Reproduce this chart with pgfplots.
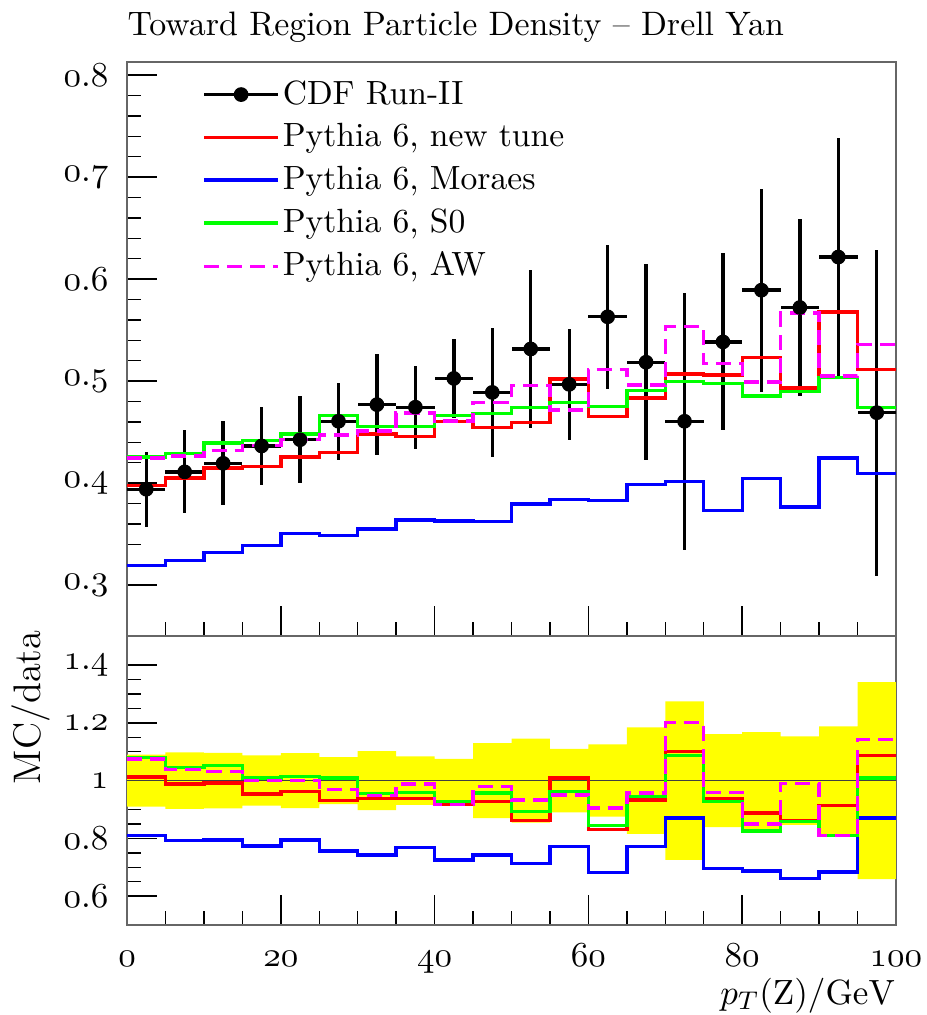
\documentclass[border=0pt]{standalone}
\usepackage{pgfplots}
\pgfplotsset{compat=1.18}
\usepackage{pgfplotstable}
\usepgfplotslibrary{fillbetween}

\definecolor{mcred}{RGB}{255,0,0}
\definecolor{mcblue}{RGB}{0,0,255}
\definecolor{mcgreen}{RGB}{0,255,0}
\definecolor{mcmag}{RGB}{255,0,255}
\definecolor{band}{RGB}{255,255,0}

% data points: bin centre, half width, value, error
\pgfplotstableread{
x    ex  y      ey
2.5  2.5 0.3940 0.0368
7.5  2.5 0.4110 0.0407
12.5 2.5 0.4194 0.0413
17.5 2.5 0.4364 0.0386
22.5 2.5 0.4425 0.0425
27.5 2.5 0.4606 0.0380
32.5 2.5 0.4769 0.0497
37.5 2.5 0.4744 0.0407
42.5 2.5 0.5026 0.0386
47.5 2.5 0.4889 0.0635
52.5 2.5 0.5315 0.0772
57.5 2.5 0.4968 0.0543
62.5 2.5 0.5630 0.0705
67.5 2.5 0.5185 0.0958
72.5 2.5 0.4606 0.1257
77.5 2.5 0.5384 0.0868
82.5 2.5 0.5891 0.0995
87.5 2.5 0.5721 0.0872
92.5 2.5 0.6216 0.1167
97.5 2.5 0.4690 0.1597
}\cdfdata

% MC histograms, bin low edges (last row repeats the last bin)
\pgfplotstableread{
x   red    blue   green  aw
0   0.3977 0.3195 0.4255 0.4245
5   0.4049 0.3242 0.4292 0.4266
10  0.4147 0.3322 0.4393 0.4320
15  0.4165 0.3387 0.4418 0.4371
20  0.4255 0.3503 0.4483 0.4425
25  0.4302 0.3488 0.4661 0.4472
30  0.4480 0.3550 0.4552 0.4509
35  0.4454 0.3640 0.4552 0.4687
40  0.4606 0.3630 0.4661 0.4610
45  0.4545 0.3622 0.4682 0.4790
50  0.4592 0.3796 0.4744 0.4954
55  0.5022 0.3839 0.4787 0.4718
60  0.4653 0.3832 0.4751 0.5113
65  0.4834 0.3984 0.4907 0.4961
70  0.5069 0.4013 0.4997 0.5533
75  0.5059 0.3731 0.4979 0.5171
80  0.5232 0.4046 0.4852 0.4990
85  0.4932 0.3767 0.4900 0.5666
90  0.5677 0.4245 0.5033 0.5051
95  0.5113 0.4093 0.4744 0.5359
100 0.5113 0.4093 0.4744 0.5359
}\mchist

% ratios MC/data and the data error band
\pgfplotstableread{
x   red   blue   green aw    up     lo
0   1.012 0.811  1.081 1.075 1.090  0.910
5   0.988 0.792  1.046 1.038 1.098  0.902
10  0.992 0.795  1.052 1.031 1.096  0.904
15  0.954 0.774  1.009 1.000 1.087  0.913
20  0.962 0.794  1.014 1.000 1.095  0.905
25  0.931 0.757  1.009 0.969 1.081  0.919
30  0.939 0.743  0.956 0.948 1.102  0.898
35  0.939 0.769  0.959 0.988 1.084  0.916
40  0.917 0.725  0.928 0.917 1.075  0.925
45  0.928 0.742  0.957 0.980 1.130  0.870
50  0.863 0.714  0.892 0.933 1.145  0.855
55  1.009 0.772  0.962 0.950 1.110  0.890
60  0.830 0.682  0.844 0.905 1.125  0.875
65  0.933 0.771  0.946 0.957 1.184  0.816
70  1.101 0.870  1.087 1.200 1.274  0.726
75  0.939 0.696  0.927 0.959 1.161  0.839
80  0.888 0.6875 0.826 0.850 1.168  0.832
85  0.863 0.662  0.858 0.991 1.153  0.847
90  0.913 0.684  0.809 0.811 1.1875 0.8125
95  1.087 0.870  1.009 1.142 1.341  0.659
100 1.087 0.870  1.009 1.142 1.341  0.659
}\ratiotab

\pgfplotsset{
  rivet/.style={
    scale only axis, width=240.3pt, xmin=0, xmax=100,
    axis line style={draw=black!60, line width=0.6pt},
    tick align=inside, xtick pos=bottom, ytick pos=left,
    major tick length=9.5pt, minor tick length=4.5pt,
    every tick/.style={black, line width=0.45pt},
    xtick={0,20,40,60,80,100}, minor x tick num=3,
    ticklabel style={font=\fontsize{10.6}{12.7}\selectfont, inner sep=0pt},
    yticklabel={$\mathnormal{\pgfmathprintnumber{\tick}}$},
    xticklabel={$\mathnormal{\pgfmathprintnumber{\tick}}$},
    yticklabel style={anchor=east, xshift=-5.6pt},
    xticklabel style={anchor=base, yshift=-12.8pt},
    legend image code/.code={\draw[#1] (0pt,0pt) -- (23pt,0pt);},
  },
  mc/.style={const plot, line width=1.05pt, mark=none},
  aw/.style={mc, mcmag, dash pattern=on 4.7pt off 2.5pt},
}

\begin{document}
\begin{tikzpicture}

% ratio panel
\begin{axis}[rivet, at={(0pt,0pt)}, anchor=south west, height=90.3pt,
  ymin=0.5, ymax=1.5, ytick={0.6,0.8,1,1.2,1.4}, minor y tick num=3,
  ylabel={MC/data}, xlabel={$p_T(\mathrm{Z})/\mathrm{GeV}$},
  ylabel style={at={(axis description cs:-0.125,1.021)}, anchor=east,
    inner sep=0pt, font=\fontsize{12}{14}\selectfont},
  xlabel style={at={(axis description cs:1,0)}, anchor=base east,
    yshift=-24.7pt, inner sep=0pt, font=\fontsize{10.8}{13}\selectfont}]
  \addplot[draw=none, const plot, name path=up] table[x=x, y=up] {\ratiotab};
  \addplot[draw=none, const plot, name path=lo] table[x=x, y=lo] {\ratiotab};
  \addplot[fill=band, draw=none] fill between[of=up and lo];
  \addplot[black!75, line width=0.5pt] coordinates {(0,1) (100,1)};
  \addplot[mc, mcred] table[x=x, y=red] {\ratiotab};
  \addplot[mc, mcblue] table[x=x, y=blue] {\ratiotab};
  \addplot[mc, mcgreen] table[x=x, y=green] {\ratiotab};
  \addplot[aw] table[x=x, y=aw] {\ratiotab};
\end{axis}

% main panel
\begin{axis}[rivet, at={(0pt,90.3pt)}, anchor=south west, height=179.4pt,
  ymin=0.25, ymax=0.8127, ytick={0.3,0.4,0.5,0.6,0.7,0.8}, minor y tick num=4,
  xticklabels={},
  title={Toward Region Particle Density -- Drell Yan},
  every axis title/.style={at={(axis description cs:0,1)}, anchor=base west,
    yshift=8.4pt, inner sep=0pt, font=\fontsize{10.6}{12.7}\selectfont},
  legend cell align=left,
  legend style={draw=none, fill=none, at={(axis description cs:0.085,0.986)},
    anchor=north west, font=\fontsize{10.5}{12.6}\selectfont,
    row sep=2.55pt, nodes={inner sep=1pt}}]
  \addplot[black, only marks, mark=*, mark size=2.1pt,
    legend image code/.code={\draw[black, line width=1.05pt] (0pt,0pt) -- (23pt,0pt);
      \fill[black] (11.5pt,0pt) circle (2.1pt);},
    error bars/.cd, x dir=both, x explicit, y dir=both, y explicit,
    error mark=none, error bar style={black, line width=1.05pt}]
    table[x=x, y=y, x error=ex, y error=ey] {\cdfdata};
  \addplot[mc, mcred] table[x=x, y=red] {\mchist};
  \addplot[mc, mcblue] table[x=x, y=blue] {\mchist};
  \addplot[mc, mcgreen] table[x=x, y=green] {\mchist};
  \addplot[aw] table[x=x, y=aw] {\mchist};
  \legend{CDF Run-II, {Pythia 6, new tune}, {Pythia 6, Moraes}, {Pythia 6, S0}, {Pythia 6, AW}}
\end{axis}

\pgfresetboundingbox
\path[use as bounding box] (-39.7pt,-28.1pt) rectangle (249.7pt,289.1pt);
\end{tikzpicture}
\end{document}
